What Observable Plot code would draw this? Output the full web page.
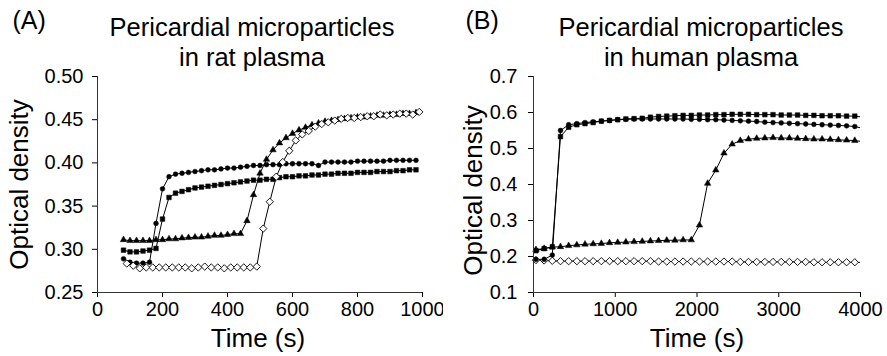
<!DOCTYPE html>
<html><head><meta charset="utf-8">
<script src="https://cdn.jsdelivr.net/npm/d3@7"></script>
<script src="https://cdn.jsdelivr.net/npm/@observablehq/plot@0.6"></script>
<style>
body{margin:0;background:#fff;}
#wrap{display:flex;width:887px;height:356px;overflow:hidden;}
</style></head><body><div id="wrap"></div>
<script>
// ---------- Panel A: rat plasma ----------
const timeA = [80,100,120,140,160,180,200,220,240,260,280,300,320,340,360,380,400,420,440,460,480,500,520,540,560,580,600,620,640,660,680,700,720,740,760,780,800,820,840,860,880,900,920,940,960,980];
const timeADiamond = [90,110,130,150,170,190,210,230,250,270,290,310,330,350,370,390,410,430,450,470,490,510,530,550,570,590,610,630,650,670,690,710,730,750,770,790,810,830,850,870,890,910,930,950,970,990];
const circleA = [0.289,0.285,0.284,0.284,0.285,0.330,0.370,0.384,0.387,0.388,
  0.389,0.390,0.391,0.392,0.392,0.393,0.394,0.394,0.395,0.396,
  0.397,0.397,0.398,0.398,0.398,0.399,0.399,0.399,0.399,0.399,
  0.397,0.401,0.401,0.401,0.401,0.401,0.402,0.402,0.402,0.402,
  0.402,0.403,0.403,0.403,0.403,0.403];
const squareA = [0.299,0.297,0.297,0.298,0.299,0.301,0.335,0.360,0.365,0.367,
  0.369,0.371,0.372,0.373,0.374,0.375,0.376,0.377,0.378,0.379,
  0.380,0.380,0.381,0.381,0.383,0.384,0.384,0.385,0.385,0.386,
  0.386,0.387,0.387,0.388,0.388,0.388,0.389,0.389,0.389,0.390,
  0.390,0.390,0.391,0.391,0.392,0.392];
const triangleA = [0.311,0.310,0.310,0.310,0.310,0.311,0.311,0.312,0.312,0.313,
  0.3135,0.314,0.314,0.315,0.316,0.316,0.317,0.318,0.318,0.333,
  0.363,0.388,0.404,0.415,0.423,0.429,0.434,0.438,0.441,0.444,
  0.446,0.448,0.449,0.450,0.451,0.452,0.453,0.453,0.454,0.455,
  0.455,0.456,0.456,0.457,0.457,0.458];
const diamondA = [0.2835,0.281,0.278,0.279,0.279,0.279,0.279,0.279,0.279,0.279,
  0.278,0.279,0.280,0.279,0.279,0.278,0.279,0.279,0.279,0.279,
  0.280,0.324,0.355,0.384,0.401,0.414,0.426,0.433,0.437,0.442,
  0.445,0.447,0.449,0.451,0.452,0.452,0.453,0.454,0.454,0.456,
  0.455,0.456,0.457,0.457,0.456,0.459];
const xTicksA = [0,200,400,600,800,1000];
const yTicksA = [0.25,0.30,0.35,0.40,0.45,0.50];

// ---------- Panel B: human plasma ----------
const timeB = [30,130,230,330,430,530,630,730,830,930,1030,1130,1230,1330,1430,1530,1630,1730,1830,1930,2030,2130,2230,2330,2430,2530,2630,2730,2830,2930,3030,3130,3230,3330,3430,3530,3630,3730,3830,3930,4030];
const circleB = [0.192,0.192,0.204,0.550,0.566,0.569,0.572,0.574,0.576,0.578,
  0.580,0.581,0.582,0.582,0.582,0.582,0.582,0.582,0.582,0.581,
  0.581,0.580,0.580,0.579,0.578,0.577,0.576,0.575,0.573,0.572,
  0.571,0.570,0.569,0.568,0.567,0.566,0.565,0.564,0.563,0.561,
  0.556];
const squareB = [0.216,0.222,0.227,0.533,0.559,0.566,0.569,0.572,0.576,0.578,
  0.580,0.582,0.583,0.584,0.587,0.589,0.590,0.591,0.592,0.592,
  0.593,0.593,0.594,0.594,0.595,0.595,0.595,0.594,0.594,0.594,
  0.593,0.593,0.593,0.592,0.592,0.591,0.591,0.591,0.590,0.590,
  0.587];
const triangleB = [0.219,0.222,0.226,0.227,0.230,0.232,0.234,0.235,0.236,0.238,
  0.239,0.240,0.241,0.242,0.243,0.244,0.245,0.245,0.246,0.246,
  0.287,0.403,0.440,0.487,0.512,0.522,0.526,0.528,0.529,0.530,
  0.529,0.529,0.528,0.527,0.526,0.526,0.525,0.524,0.523,0.522,
  0.519];
const diamondB = [0.190,0.189,0.188,0.187,0.187,0.187,0.187,0.187,0.187,0.187,
  0.187,0.187,0.187,0.187,0.187,0.186,0.186,0.186,0.186,0.186,
  0.186,0.186,0.186,0.186,0.186,0.185,0.185,0.185,0.185,0.185,
  0.185,0.185,0.185,0.185,0.184,0.184,0.184,0.184,0.184,0.184,
  0.1835];
const xTicksB = [0,1000,2000,3000,4000];
const yTicksB = [0.1,0.2,0.3,0.4,0.5,0.6,0.7];

const FONT = "'Liberation Sans', Arial, Helvetica, sans-serif";

function rows(times, values) { return times.map((t, i) => ({t, v: values[i]})); }

function panel(o) {
  const marks = [];
  for (const s of o.series) {
    marks.push(Plot.line(rows(s.t, s.v), {x: "t", y: "v", stroke: "black", strokeWidth: 1, clip: true}));
  }
  for (const s of o.series) {
    const data = rows(s.t, s.v).filter(d => d.t <= o.xDomain[1]);
    marks.push(Plot.dot(data, {x: "t", y: "v", symbol: () => s.symbol, r: s.r, fill: s.fill, stroke: "black", strokeWidth: s.sw}));
  }
  marks.push(Plot.ruleX([o.xDomain[0]], {stroke: "#333", strokeWidth: 1}));
  marks.push(Plot.ruleY([o.yDomain[0]], {stroke: "#333", strokeWidth: 1}));
  marks.push(Plot.text([o.title], {frameAnchor: "top", textAnchor: "middle", lineAnchor: "top", dx: o.titleDx, dy: -62, fontSize: 25.5, lineHeight: 1.17, fill: "black"}));
  marks.push(Plot.text([o.tag], {frameAnchor: "top-left", textAnchor: "start", lineAnchor: "top", dx: o.tagDx, dy: -65, fontSize: 25, fill: "black"}));
  marks.push(Plot.text(["Time (s)"], {frameAnchor: "bottom", textAnchor: "middle", lineAnchor: "top", dy: 36, dx: o.xlabDx, fontSize: 26, fill: "black"}));
  marks.push(Plot.text(["Optical density"], {frameAnchor: "left", textAnchor: "middle", lineAnchor: "middle", rotate: -90, dx: o.ylabDx, dy: o.ylabDy, fontSize: 26, fill: "black"}));
  return Plot.plot({
    width: o.width, height: 356,
    marginLeft: o.ml, marginRight: o.mr, marginTop: 76, marginBottom: 64,
    style: {fontFamily: FONT, fontSize: "20px", color: "black", background: "white", overflow: "visible"},
    x: {domain: o.xDomain, ticks: o.xTicks, tickFormat: d => String(d), tickSize: 5, tickPadding: 4, label: null},
    y: {domain: o.yDomain, ticks: o.yTicks, tickFormat: d3.format(o.yFmt), tickSize: 5, tickPadding: o.yPad, label: null},
    symbol: {type: "identity"},
    marks
  });
}

const symSpec = (t, v, symbol) => {
  if (symbol === "circle") return {t, v, symbol, r: 2.4, fill: "black", sw: 0.5};
  if (symbol === "square") return {t, v, symbol, r: 2.6, fill: "black", sw: 0.5};
  if (symbol === "triangle") return {t, v, symbol, r: 2.4, fill: "black", sw: 0.5};
  return {t, v, symbol: "diamond2", r: 3.3, fill: "white", sw: 0.9};
};

const wrap = document.getElementById("wrap");
wrap.appendChild(panel({
  width: 443, ml: 97, mr: 21,
  xDomain: [0, 1000], yDomain: [0.25, 0.5], xTicks: xTicksA, yTicks: yTicksA, yFmt: ".2f", yPad: 9,
  title: "Pericardial microparticles\nin rat plasma", titleDx: -8, tag: "(A)", tagDx: -85,
  xlabDx: -2, ylabDx: -77.5, ylabDy: 0,
  series: [symSpec(timeA, circleA, "circle"), symSpec(timeA, squareA, "square"),
           symSpec(timeA, triangleA, "triangle"), symSpec(timeADiamond, diamondA, "diamond")]
}));
wrap.appendChild(panel({
  width: 444, ml: 90, mr: 27,
  xDomain: [0, 4000], yDomain: [0.1, 0.7], xTicks: xTicksB, yTicks: yTicksB, yFmt: ".1f", yPad: 11,
  title: "Pericardial microparticles\nin human plasma", titleDx: 4, tag: "(B)", tagDx: -68,
  xlabDx: 0, ylabDx: -60, ylabDy: 6,
  series: [symSpec(timeB, diamondB, "diamond"), symSpec(timeB, triangleB, "triangle"),
           symSpec(timeB, circleB, "circle"), symSpec(timeB, squareB, "square")]
}));
</script></body></html>
